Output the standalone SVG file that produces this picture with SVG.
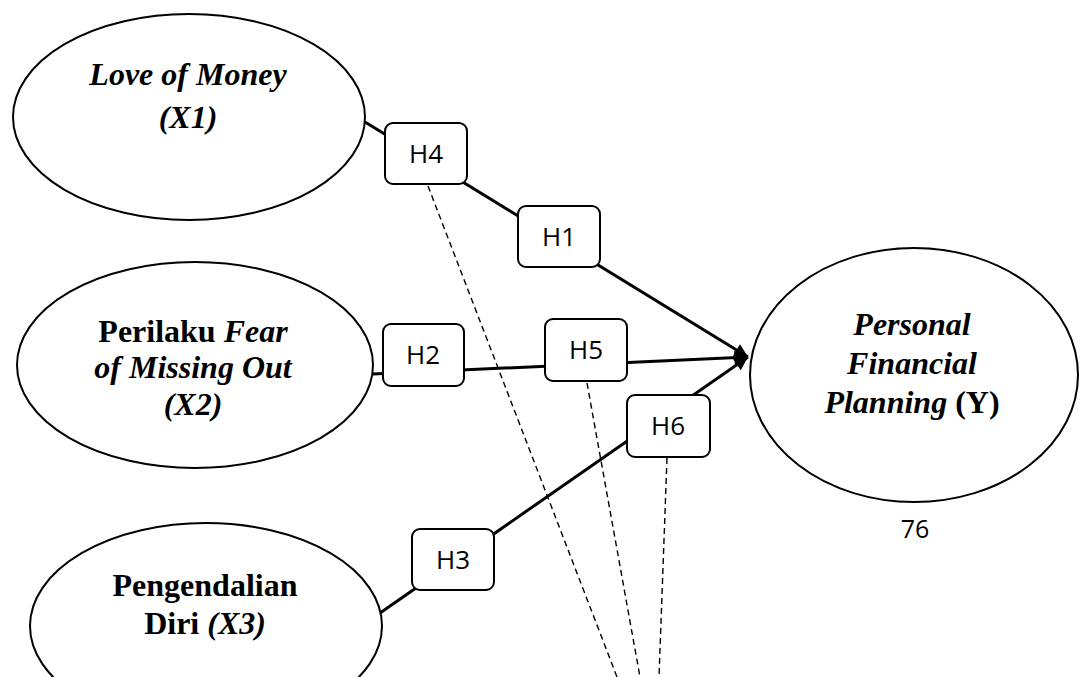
<svg xmlns="http://www.w3.org/2000/svg" width="1087" height="677" viewBox="0 0 1087 677">
<style>
.ell{fill:#fff;stroke:#000;stroke-width:2}
.box{fill:#fff;stroke:#000;stroke-width:2}
.lt{font-family:"Liberation Serif","Times New Roman",serif;font-weight:bold;font-size:32px;text-anchor:middle;fill:#000}
.it{font-style:italic}
.bl{font-family:"Open Sans","Liberation Sans",sans-serif;font-size:26px;text-anchor:middle;fill:#000}
.sol{stroke:#000;stroke-width:3;fill:none}
.dash{stroke:#000;stroke-width:1.4;stroke-dasharray:6 4;fill:none}
</style>
<defs>
<marker id="arr" viewBox="0 0 10 10" refX="10" refY="5" markerWidth="6" markerHeight="4.5" orient="auto" markerUnits="strokeWidth">
<path d="M0,0 L10,5 L0,10 z" fill="#000"/>
</marker>
</defs>
<rect width="1087" height="677" fill="#fff"/>
<g id="connectors">
<line class="sol" x1="365" y1="122" x2="748" y2="357" marker-end="url(#arr)"/>
<line class="sol" x1="373" y1="374" x2="748" y2="357" marker-end="url(#arr)"/>
<line class="sol" x1="380" y1="613" x2="748" y2="357" marker-end="url(#arr)"/>
<line class="dash" x1="428" y1="186" x2="617" y2="677"/>
<line class="dash" x1="587" y1="383" x2="640" y2="677"/>
<line class="dash" x1="667" y1="458" x2="659" y2="677"/>
</g>
<g id="X1">
<ellipse class="ell" cx="189" cy="117" rx="176" ry="103"/>
<text class="lt it" x="188" y="85">Love of Money</text>
<text class="lt it" x="188" y="128">(X1)</text>
</g>
<g id="X2">
<ellipse class="ell" cx="195" cy="365" rx="178" ry="103"/>
<text class="lt" x="193" y="342">Perilaku <tspan class="it">Fear</tspan></text>
<text class="lt it" x="193" y="378">of Missing Out</text>
<text class="lt it" x="193" y="415">(X2)</text>
</g>
<g id="X3">
<ellipse class="ell" cx="206" cy="626" rx="176" ry="103"/>
<text class="lt" x="205" y="596">Pengendalian</text>
<text class="lt" x="205" y="634">Diri <tspan class="it">(X3)</tspan></text>
</g>
<g id="Y">
<ellipse class="ell" cx="914" cy="375" rx="164" ry="127"/>
<text class="lt it" x="912" y="335">Personal</text>
<text class="lt it" x="912" y="374">Financial</text>
<text class="lt" x="912" y="413"><tspan class="it">Planning</tspan> (Y)</text>
</g>
<g id="H4"><rect class="box" x="385" y="123" width="82" height="61" rx="8"/><text class="bl" x="426" y="163">H4</text></g>
<g id="H1"><rect class="box" x="518" y="206" width="82" height="61" rx="8"/><text class="bl" x="559" y="246">H1</text></g>
<g id="H2"><rect class="box" x="383" y="324" width="81" height="62" rx="8"/><text class="bl" x="423" y="364">H2</text></g>
<g id="H5"><rect class="box" x="545" y="319" width="82" height="62" rx="8"/><text class="bl" x="586" y="359">H5</text></g>
<g id="H6"><rect class="box" x="627" y="395" width="83" height="62" rx="8"/><text class="bl" x="668" y="435">H6</text></g>
<g id="H3"><rect class="box" x="412" y="529" width="82" height="61" rx="8"/><text class="bl" x="453" y="569">H3</text></g>
<text class="bl" x="915" y="538" style="font-size:25px">76</text>
</svg>
